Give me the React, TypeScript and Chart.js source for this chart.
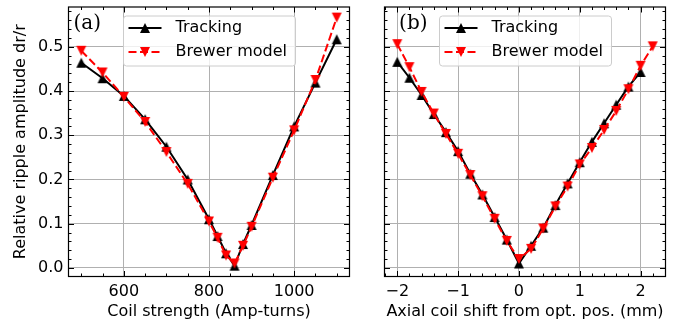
import React, { useEffect, useRef } from 'react';
import { Chart, registerables } from 'chart.js';

Chart.register(...registerables);

// ---- Data ----
const coilStrength = [500, 550, 600, 650, 700, 750, 800, 820, 840, 860, 880, 900, 950, 1000, 1050, 1100];
const trackingCoil = [0.464, 0.429, 0.389, 0.336, 0.274, 0.2, 0.11, 0.072, 0.033, 0.005, 0.054, 0.097, 0.21, 0.32, 0.419, 0.517];
const brewerCoil = [0.491, 0.442, 0.387, 0.33, 0.262, 0.19, 0.105, 0.068, 0.028, 0.01, 0.05, 0.093, 0.204, 0.311, 0.425, 0.566];

const shiftTracking = [-2, -1.8, -1.6, -1.4, -1.2, -1, -0.8, -0.6, -0.4, -0.2, 0, 0.2, 0.4, 0.6, 0.8, 1, 1.2, 1.4, 1.6, 1.8, 2];
const trackingShift = [0.466, 0.43, 0.391, 0.348, 0.307, 0.264, 0.213, 0.166, 0.115, 0.064, 0.01, 0.05, 0.091, 0.142, 0.191, 0.239, 0.285, 0.327, 0.369, 0.41, 0.443];
const shiftBrewer = [-2, -1.8, -1.6, -1.4, -1.2, -1, -0.8, -0.6, -0.4, -0.2, 0, 0.2, 0.4, 0.6, 0.8, 1, 1.2, 1.4, 1.6, 1.8, 2, 2.2];
const brewerShift = [0.506, 0.454, 0.398, 0.349, 0.303, 0.258, 0.21, 0.162, 0.111, 0.061, 0.02, 0.043, 0.089, 0.139, 0.184, 0.234, 0.271, 0.312, 0.355, 0.404, 0.457, 0.501];

const yTicks = [0, 0.1, 0.2, 0.3, 0.4, 0.5];
const coilTicks = [600, 800, 1000];
const shiftTicks = [-2, -1, 0, 1, 2];
const seriesLabels = ['Tracking', 'Brewer model'];
const panelLabels = ['(a)', '(b)'];
const yTitle = 'Relative ripple amplitude dr/r';
const coilTitle = 'Coil strength (Amp-turns)';
const shiftTitle = 'Axial coil shift from opt. pos. (mm)';

const FONT = 'DejaVu Sans';
const RED = '#ff0000';
const BLACK = '#000000';

function makeMarker(up: boolean, color: string): HTMLCanvasElement {
  const c = document.createElement('canvas');
  c.width = 12;
  c.height = 12;
  const ctx = c.getContext('2d')!;
  ctx.fillStyle = color;
  ctx.beginPath();
  if (up) {
    ctx.moveTo(6, 1);
    ctx.lineTo(11, 11);
    ctx.lineTo(1, 11);
  } else {
    ctx.moveTo(1, 1);
    ctx.lineTo(11, 1);
    ctx.lineTo(6, 11);
  }
  ctx.closePath();
  ctx.fill();
  return c;
}

const frameTicksPlugin = {
  id: 'frameTicks',
  afterDatasetsDraw(chart: any, _args: any, opts: any) {
    const { ctx, chartArea: a } = chart;
    const xs = chart.scales.x;
    const ys = chart.scales.y;
    ctx.save();
    ctx.strokeStyle = BLACK;
    ctx.lineWidth = 1;

    const drawTicks = (scale: any, horizontal: boolean, minorDiv: number) => {
      const majors = scale.ticks.map((t: any) => t.value);
      const step = majors[1] - majors[0];
      const mstep = step / minorDiv;
      const start = Math.ceil((scale.min - 1e-9) / mstep);
      const end = Math.floor((scale.max + 1e-9) / mstep);
      for (let i = start; i <= end; i++) {
        const v = i * mstep;
        const isMajor = Math.abs(v / step - Math.round(v / step)) < 1e-6;
        const len = isMajor ? 5.5 : 3;
        const p = Math.round(scale.getPixelForValue(v)) + 0.5;
        ctx.beginPath();
        if (horizontal) {
          ctx.moveTo(p, a.bottom);
          ctx.lineTo(p, a.bottom - len);
          ctx.moveTo(p, a.top);
          ctx.lineTo(p, a.top + len);
        } else {
          ctx.moveTo(a.left, p);
          ctx.lineTo(a.left + len, p);
          ctx.moveTo(a.right, p);
          ctx.lineTo(a.right - len, p);
        }
        ctx.stroke();
      }
    };
    drawTicks(xs, true, opts.xMinor);
    drawTicks(ys, false, opts.yMinor);

    ctx.lineWidth = 1.2;
    ctx.strokeRect(a.left, a.top, a.right - a.left, a.bottom - a.top);

    // legend
    const bx = a.left + 55;
    const by = a.top + 9;
    const bw = 172;
    const bh = 50;
    ctx.beginPath();
    if (ctx.roundRect) ctx.roundRect(bx, by, bw, bh, 3);
    else ctx.rect(bx, by, bw, bh);
    ctx.fillStyle = 'rgba(255,255,255,0.8)';
    ctx.fill();
    ctx.strokeStyle = '#cccccc';
    ctx.lineWidth = 1;
    ctx.stroke();

    const rows = [
      { label: opts.labels[0], color: BLACK, dash: [] as number[], marker: opts.markers[0] },
      { label: opts.labels[1], color: RED, dash: [8, 3.5], marker: opts.markers[1] },
    ];
    rows.forEach((r, i) => {
      const ry = by + 12 + i * 24;
      ctx.strokeStyle = r.color;
      ctx.lineWidth = 2;
      ctx.setLineDash(r.dash);
      ctx.beginPath();
      ctx.moveTo(bx + 5, ry);
      ctx.lineTo(bx + 38, ry);
      ctx.stroke();
      ctx.setLineDash([]);
      ctx.drawImage(r.marker, bx + 21.5 - 6, ry - 6);
      ctx.fillStyle = BLACK;
      ctx.font = `16px "${FONT}"`;
      ctx.textAlign = 'left';
      ctx.textBaseline = 'middle';
      ctx.fillText(r.label, bx + 52, ry);
    });

    // panel label
    ctx.fillStyle = BLACK;
    ctx.font = '20px "DejaVu Serif"';
    ctx.textAlign = 'left';
    ctx.textBaseline = 'middle';
    ctx.fillText(opts.panel, a.left + opts.panelDx, a.top + 17);
    ctx.restore();
  },
};

function fmtShift(v: number) {
  if (v < 0) return '\u2212' + Math.abs(v);
  return String(v);
}

interface PanelProps {
  left: number;
  width: number;
  plotLeft: number;
  plotRight: number;
  xs: number[][];
  ys: number[][];
  xMin: number;
  xMax: number;
  xTicks: number[];
  xMinor: number;
  xTitle: string;
  xFmt: (v: number) => string;
  showY: boolean;
  panel: string;
  panelDx: number;
}

function Panel(p: PanelProps) {
  const ref = useRef<HTMLCanvasElement>(null);
  useEffect(() => {
    const up = makeMarker(true, BLACK);
    const down = makeMarker(false, RED);
    const H = 327;
    const plotTop = 4.5;
    const plotBottom = 276.5;
    const chart = new Chart(ref.current!, {
      type: 'line',
      data: {
        datasets: [
          {
            label: seriesLabels[0],
            data: p.xs[0].map((x, i) => ({ x, y: p.ys[0][i] })),
            borderColor: BLACK,
            backgroundColor: BLACK,
            borderWidth: 2,
            pointStyle: up as any,
            pointRadius: 5,
            tension: 0,
            order: 2,
          },
          {
            label: seriesLabels[1],
            data: p.xs[1].map((x, i) => ({ x, y: p.ys[1][i] })),
            borderColor: RED,
            backgroundColor: RED,
            borderWidth: 2,
            borderDash: [8, 3.5],
            pointStyle: down as any,
            pointRadius: 5,
            tension: 0,
            order: 1,
          },
        ],
      },
      options: {
        animation: false,
        responsive: false,
        maintainAspectRatio: false,
        devicePixelRatio: 1,
        layout: { padding: { left: 0, top: plotTop, right: p.width - p.plotRight, bottom: 0 } },
        plugins: {
          legend: { display: false },
          tooltip: { enabled: false },
          frameTicks: {
            xMinor: p.xMinor,
            yMinor: 5,
            labels: seriesLabels,
            markers: [up, down],
            panel: p.panel,
            panelDx: p.panelDx,
          },
        } as any,
        scales: {
          x: {
            type: 'linear',
            min: p.xMin,
            max: p.xMax,
            afterBuildTicks: (s: any) => {
              s.ticks = p.xTicks.map((v) => ({ value: v }));
            },
            afterFit: (s: any) => {
              s.height = H - plotBottom;
              s.paddingLeft = 0;
              s.paddingRight = 0;
            },
            grid: { color: '#b0b0b0', lineWidth: 1, drawTicks: false },
            border: { display: false },
            ticks: {
              padding: 6,
              color: BLACK,
              autoSkip: false,
              maxRotation: 0,
              font: { family: FONT, size: 16 },
              callback: (v: any) => p.xFmt(Number(v)),
            },
            title: {
              display: true,
              text: p.xTitle,
              color: BLACK,
              font: { family: FONT, size: 16 },
              padding: { top: 0, bottom: 5.7 },
            },
          },
          y: {
            type: 'linear',
            min: -0.0195,
            max: 0.59,
            afterBuildTicks: (s: any) => {
              s.ticks = yTicks.map((v) => ({ value: v }));
            },
            afterFit: (s: any) => {
              s.width = p.plotLeft;
              s.paddingTop = 0;
              s.paddingBottom = 0;
            },
            grid: { color: '#b0b0b0', lineWidth: 1, drawTicks: false },
            border: { display: false },
            ticks: {
              display: p.showY,
              padding: 5,
              color: BLACK,
              font: { family: FONT, size: 16 },
              callback: (v: any) => Number(v).toFixed(1),
            },
            title: {
              display: p.showY,
              text: yTitle,
              color: BLACK,
              font: { family: FONT, size: 16 },
              padding: { top: 11.6, bottom: 0 },
            },
          },
        },
      },
      plugins: [frameTicksPlugin],
    });
    return () => chart.destroy();
  }, []);
  return (
    <canvas
      ref={ref}
      width={p.width}
      height={327}
      style={{ position: 'absolute', left: p.left, top: 0, width: p.width, height: 327 }}
    />
  );
}

export default function App() {
  return (
    <div style={{ position: 'absolute', left: 0, top: 0, width: 688, height: 327, background: '#fff', overflow: 'hidden' }}>
      <Panel
        left={0}
        width={360}
        plotLeft={68.5}
        plotRight={349.5}
        xs={[coilStrength, coilStrength]}
        ys={[trackingCoil, brewerCoil]}
        xMin={470}
        xMax={1130}
        xTicks={coilTicks}
        xMinor={4}
        xTitle={coilTitle}
        xFmt={(v) => String(v)}
        showY={true}
        panel={panelLabels[0]}
        panelDx={5}
      />
      <Panel
        left={344}
        width={344}
        plotLeft={40.5}
        plotRight={321.5}
        xs={[shiftTracking, shiftBrewer]}
        ys={[trackingShift, brewerShift]}
        xMin={-2.21}
        xMax={2.41}
        xTicks={shiftTicks}
        xMinor={5}
        xTitle={shiftTitle}
        xFmt={fmtShift}
        showY={false}
        panel={panelLabels[1]}
        panelDx={14.6}
      />
    </div>
  );
}
